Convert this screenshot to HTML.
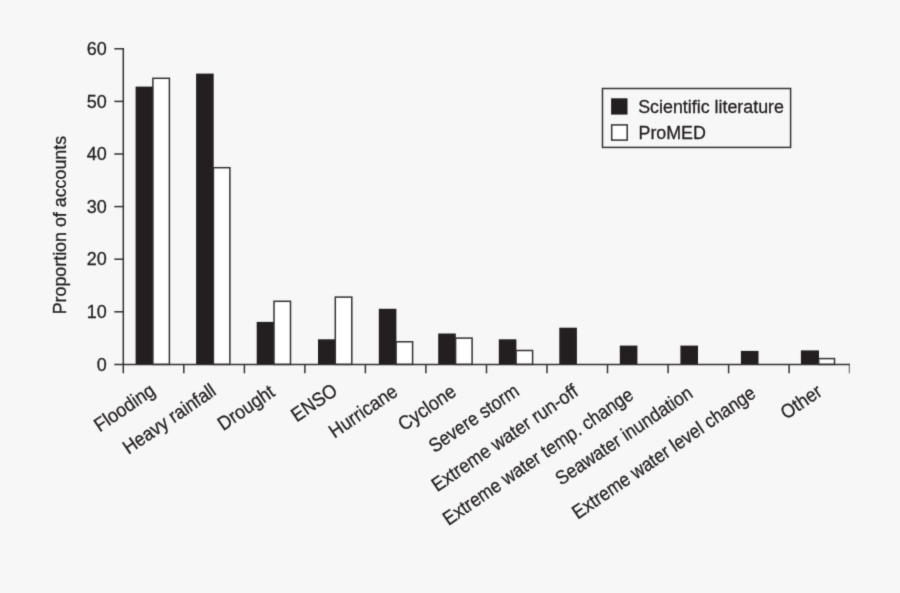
<!DOCTYPE html>
<html><head><meta charset="utf-8"><title>Proportion of accounts</title>
<style>
html,body{margin:0;padding:0;background:#f7f7f7;}
body{width:900px;height:593px;overflow:hidden;}
svg{display:block;}
text{font-family:"Liberation Sans",sans-serif;fill:#231f20;stroke:#231f20;stroke-width:0.3px;}
</style></head><body>
<svg width="900" height="593" viewBox="0 0 900 593">
<rect width="900" height="593" fill="#f7f7f7"/>
<defs><filter id="soft" color-interpolation-filters="sRGB" x="0" y="0" width="900" height="593" filterUnits="userSpaceOnUse"><feConvolveMatrix order="3" kernelMatrix="0.0144 0.0912 0.0144 0.0912 0.5776 0.0912 0.0144 0.0912 0.0144" divisor="1" edgeMode="duplicate"/></filter></defs>
<g filter="url(#soft)">

<rect x="135.6" y="86.6" width="17.6" height="277.8" fill="#231f20"/>
<rect x="152.9" y="78.3" width="16.5" height="286.1" fill="#fff" stroke="#353233" stroke-width="1.5"/>
<rect x="196.1" y="73.6" width="17.6" height="290.8" fill="#231f20"/>
<rect x="213.4" y="167.7" width="16.5" height="196.7" fill="#fff" stroke="#353233" stroke-width="1.5"/>
<rect x="256.7" y="321.9" width="17.6" height="42.5" fill="#231f20"/>
<rect x="274.0" y="301.3" width="16.5" height="63.1" fill="#fff" stroke="#353233" stroke-width="1.5"/>
<rect x="318.0" y="339.3" width="17.6" height="25.1" fill="#231f20"/>
<rect x="335.3" y="297.1" width="16.5" height="67.3" fill="#fff" stroke="#353233" stroke-width="1.5"/>
<rect x="378.8" y="308.8" width="17.6" height="55.6" fill="#231f20"/>
<rect x="396.1" y="341.8" width="16.5" height="22.6" fill="#fff" stroke="#353233" stroke-width="1.5"/>
<rect x="438.2" y="333.5" width="17.6" height="30.9" fill="#231f20"/>
<rect x="455.6" y="338.1" width="16.5" height="26.3" fill="#fff" stroke="#353233" stroke-width="1.5"/>
<rect x="498.8" y="339.3" width="17.6" height="25.1" fill="#231f20"/>
<rect x="516.1" y="350.5" width="16.5" height="13.9" fill="#fff" stroke="#353233" stroke-width="1.5"/>
<rect x="559.3" y="327.7" width="17.6" height="36.7" fill="#231f20"/>
<rect x="619.8" y="345.6" width="17.6" height="18.8" fill="#231f20"/>
<rect x="680.4" y="345.6" width="17.6" height="18.8" fill="#231f20"/>
<rect x="740.9" y="350.9" width="17.6" height="13.5" fill="#231f20"/>
<rect x="800.9" y="350.4" width="18.1" height="14.0" fill="#231f20"/>
<rect x="818.7" y="358.6" width="15.8" height="5.8" fill="#fff" stroke="#353233" stroke-width="1.5"/>
<g stroke="#353233" stroke-width="1.5" fill="none">
<path d="M123.3 48.05V373.3"/>
<path d="M114.3 364.4H849.7"/>
<path d="M114.3 311.8H123.3"/>
<path d="M114.3 259.2H123.3"/>
<path d="M114.3 206.6H123.3"/>
<path d="M114.3 154.0H123.3"/>
<path d="M114.3 101.4H123.3"/>
<path d="M114.3 48.8H123.3"/>
<path d="M183.8 364.4V373.3"/>
<path d="M244.4 364.4V373.3"/>
<path d="M304.9 364.4V373.3"/>
<path d="M365.4 364.4V373.3"/>
<path d="M425.9 364.4V373.3"/>
<path d="M486.5 364.4V373.3"/>
<path d="M547.0 364.4V373.3"/>
<path d="M607.5 364.4V373.3"/>
<path d="M668.1 364.4V373.3"/>
<path d="M728.6 364.4V373.3"/>
<path d="M789.1 364.4V373.3"/>
<path d="M849.31 363.65V373.3" stroke-width="0.8"/>
</g>
<text x="106.8" y="370.5" font-size="19" text-anchor="end" textLength="10" lengthAdjust="spacingAndGlyphs">0</text>
<text x="106.8" y="317.9" font-size="19" text-anchor="end" textLength="20" lengthAdjust="spacingAndGlyphs">10</text>
<text x="106.8" y="265.3" font-size="19" text-anchor="end" textLength="20" lengthAdjust="spacingAndGlyphs">20</text>
<text x="106.8" y="212.7" font-size="19" text-anchor="end" textLength="20" lengthAdjust="spacingAndGlyphs">30</text>
<text x="106.8" y="160.1" font-size="19" text-anchor="end" textLength="20" lengthAdjust="spacingAndGlyphs">40</text>
<text x="106.8" y="107.5" font-size="19" text-anchor="end" textLength="20" lengthAdjust="spacingAndGlyphs">50</text>
<text x="106.8" y="54.9" font-size="19" text-anchor="end" textLength="20" lengthAdjust="spacingAndGlyphs">60</text>
<text transform="translate(65.7 225.1) rotate(-90)" font-size="19" text-anchor="middle" textLength="178.5" lengthAdjust="spacingAndGlyphs">Proportion of accounts</text>
<text transform="translate(156.5 393.5) rotate(-34.5)" font-size="19.5" text-anchor="end" textLength="69.0" lengthAdjust="spacingAndGlyphs">Flooding</text>
<text transform="translate(217.3 393.8) rotate(-34.5)" font-size="19.5" text-anchor="end" textLength="107.8" lengthAdjust="spacingAndGlyphs">Heavy rainfall</text>
<text transform="translate(276.0 394.9) rotate(-34.5)" font-size="19.5" text-anchor="end" textLength="64.0" lengthAdjust="spacingAndGlyphs">Drought</text>
<text transform="translate(338.9 393.5) rotate(-34.5)" font-size="19.5" text-anchor="end" textLength="51.0" lengthAdjust="spacingAndGlyphs">ENSO</text>
<text transform="translate(398.9 394.5) rotate(-34.5)" font-size="19.5" text-anchor="end" textLength="78.0" lengthAdjust="spacingAndGlyphs">Hurricane</text>
<text transform="translate(457.4 394.7) rotate(-34.5)" font-size="19.5" text-anchor="end" textLength="65.0" lengthAdjust="spacingAndGlyphs">Cyclone</text>
<text transform="translate(520.5 394.0) rotate(-34.5)" font-size="19.5" text-anchor="end" textLength="104.5" lengthAdjust="spacingAndGlyphs">Severe storm</text>
<text transform="translate(579.5 394.5) rotate(-34.5)" font-size="19.5" text-anchor="end" textLength="172.7" lengthAdjust="spacingAndGlyphs">Extreme water run-off</text>
<text transform="translate(634.8 397.9) rotate(-34.5)" font-size="19.5" text-anchor="end" textLength="226" lengthAdjust="spacingAndGlyphs">Extreme water temp. change</text>
<text transform="translate(694.0 396.2) rotate(-34.0)" font-size="19.5" text-anchor="end" textLength="160.3" lengthAdjust="spacingAndGlyphs">Seawater inundation</text>
<text transform="translate(757.2 396.3) rotate(-34.5)" font-size="19.5" text-anchor="end" textLength="217.8" lengthAdjust="spacingAndGlyphs">Extreme water level change</text>
<text transform="translate(823.4 394.5) rotate(-34.5)" font-size="19.5" text-anchor="end" textLength="45.0" lengthAdjust="spacingAndGlyphs">Other</text>
<rect x="602.5" y="88.5" width="188.1" height="58.9" fill="#f7f7f7" stroke="#353233" stroke-width="1.5"/>
<rect x="611.1" y="98.3" width="16.4" height="16.3" fill="#231f20"/>
<rect x="611.7" y="124.9" width="15.5" height="15.2" fill="#fff" stroke="#353233" stroke-width="1.5"/>
<text x="638.2" y="113.4" font-size="18.8" textLength="145.8" lengthAdjust="spacingAndGlyphs">Scientific literature</text>
<text x="638.5" y="139.2" font-size="18.8" textLength="67.4" lengthAdjust="spacingAndGlyphs">ProMED</text>
</g></svg></body></html>
